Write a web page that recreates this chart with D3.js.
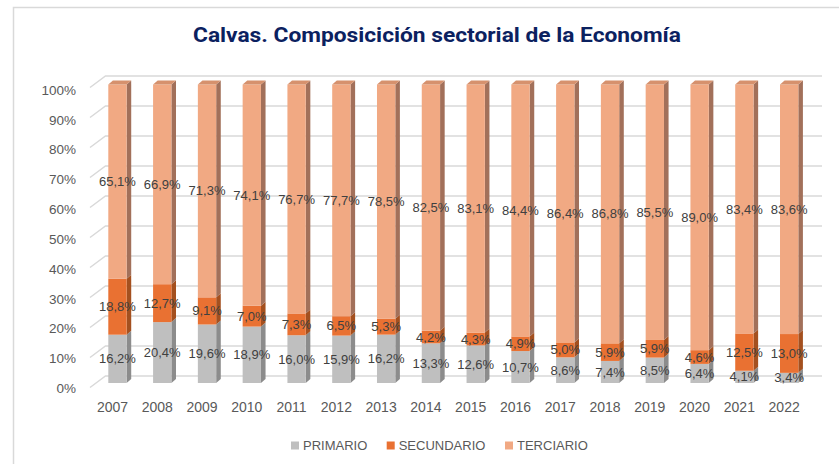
<!DOCTYPE html>
<html>
<head>
<meta charset="utf-8">
<script src="https://cdn.jsdelivr.net/npm/d3@7"></script>
<style>
  html, body { margin: 0; padding: 0; background: #ffffff; }
  svg { display: block; }
  text { font-family: "Liberation Sans", Arial, sans-serif; }
</style>
</head>
<body>
<svg id="chart" width="839" height="464"></svg>
<script>
// Sector shares of the economy of Calvas, by year (%)
const years = ["2007","2008","2009","2010","2011","2012","2013","2014","2015","2016","2017","2018","2019","2020","2021","2022"];
const primario   = [16.2, 20.4, 19.6, 18.9, 16.0, 15.9, 16.2, 13.3, 12.6, 10.7, 8.6, 7.4, 8.5, 6.4, 4.1, 3.4];
const secundario = [18.8, 12.7, 9.1, 7.0, 7.3, 6.5, 5.3, 4.2, 4.3, 4.9, 5.0, 5.9, 5.9, 4.6, 12.5, 13.0];
const terciario  = [65.1, 66.9, 71.3, 74.1, 76.7, 77.7, 78.5, 82.5, 83.1, 84.4, 86.4, 86.8, 85.5, 89.0, 83.4, 83.6];
const seriesNames = ["PRIMARIO", "SECUNDARIO", "TERCIARIO"];
const yTicks = [0, 0.1, 0.2, 0.3, 0.4, 0.5, 0.6, 0.7, 0.8, 0.9, 1];

const rows = years.map((y, i) => ({
  year: y, PRIMARIO: primario[i], SECUNDARIO: secundario[i], TERCIARIO: terciario[i]
}));

// face colours: front, side, top
const faces = {
  PRIMARIO:   { front: "#BFBFBF", side: "#8C8C8C", top: "#A6A6A6" },
  SECUNDARIO: { front: "#E97132", side: "#A4501F", top: "#C75F28" },
  TERCIARIO:  { front: "#F1A983", side: "#A2705A", top: "#D6916D" }
};

const svg = d3.select("#chart");

// outer chart frame
svg.append("rect")
  .attr("x", 13.5).attr("y", 7.5).attr("width", 900).attr("height", 520)
  .attr("fill", "#fff").attr("stroke", "#D9D9D9").attr("stroke-width", 1.5);

// title
svg.append("text")
  .attr("x", 437).attr("y", 42)
  .attr("text-anchor", "middle")
  .attr("font-size", 21).attr("font-weight", "bold")
  .attr("fill", "#0B2160")
  .attr("textLength", 488).attr("lengthAdjust", "spacingAndGlyphs")
  .style("font-family", "'Liberation Sans Narrow', 'Roboto', 'Liberation Sans', sans-serif")
  .text("Calvas. Composicición sectorial de la Economía");

// scales: front plane of the bars and back wall of the box
const x = d3.scaleBand().domain(years).range([95.07, 811.55]).paddingInner(0.591).paddingOuter(0.2955);
const yFront = d3.scaleLinear().domain([0, 1]).range([383, 84.5]);
const yBack  = d3.scaleLinear().domain([0, 1]).range([376, 76]);
const yLabel = d3.scaleLinear().domain([0, 1]).range([388.3, 90]);
const depthX = 4.6, depthY = -4;

// gridlines: side wall diagonal + back wall
const grid = svg.append("g").attr("fill", "none").attr("stroke", "#D9D9D9").attr("stroke-width", 1.5);
yTicks.forEach(t => {
  const yb = yBack(t);
  grid.append("path").attr("d", `M90,${yb + 11.5}L105.5,${yb}L822,${yb}`);
});

// y axis labels
svg.append("g").selectAll("text").data(yTicks).join("text")
  .attr("x", 76).attr("y", d => yLabel(d))
  .attr("dy", "0.35em")
  .attr("text-anchor", "end")
  .attr("font-size", 13.5).attr("fill", "#595959")
  .text(d => d3.format(".0%")(d));

// x axis labels
svg.append("g").selectAll("text").data(years).join("text")
  .attr("x", d => x(d) + x.bandwidth() / 2 - 5).attr("y", 412)
  .attr("text-anchor", "middle")
  .attr("font-size", 14).attr("fill", "#595959")
  .text(d => d);

// stacked 100% layout
const stacked = d3.stack().keys(seriesNames).offset(d3.stackOffsetExpand)(rows);

const es = d3.formatLocale({ decimal: ",", thousands: ".", grouping: [3], currency: ["", "€"] });
const fmt = es.format(".1f");

const bars = svg.append("g");
const w = x.bandwidth();
years.forEach((yr, i) => {
  const g = bars.append("g");
  stacked.forEach((layer, k) => {
    const key = layer.key;
    const [v0, v1] = layer[i];
    const x0 = x(yr), x1 = x0 + w;
    const yt = yFront(v1), yb = yFront(v0);
    // side face
    g.append("path")
      .attr("d", `M${x1},${yb}L${x1 + depthX},${yb + depthY}L${x1 + depthX},${yt + depthY}L${x1},${yt}Z`)
      .attr("fill", faces[key].side);
    // front face
    g.append("rect")
      .attr("x", x0).attr("y", yt).attr("width", w).attr("height", yb - yt)
      .attr("fill", faces[key].front);
    // top face on the uppermost segment
    if (k === stacked.length - 1) {
      g.append("path")
        .attr("d", `M${x0},${yt}L${x0 + depthX},${yt + depthY}L${x1 + depthX},${yt + depthY}L${x1},${yt}Z`)
        .attr("fill", faces[key].top);
    }
  });
});

// value labels
const labels = svg.append("g");
years.forEach((yr, i) => {
  stacked.forEach(layer => {
    const [v0, v1] = layer[i];
    labels.append("text")
      .attr("x", x(yr) + w / 2).attr("y", yFront((v0 + v1) / 2))
      .attr("dy", "0.35em")
      .attr("text-anchor", "middle")
      .attr("font-size", 13).attr("fill", "#404040")
      .text(fmt(rows[i][layer.key]) + "%");
  });
});

// legend
const legendX = [291, 386.7, 505];
const legend = svg.append("g");
seriesNames.forEach((s, i) => {
  legend.append("rect")
    .attr("x", legendX[i]).attr("y", 441.5).attr("width", 8).attr("height", 8)
    .attr("fill", faces[s].front);
  legend.append("text")
    .attr("x", legendX[i] + 12).attr("y", 445.7)
    .attr("dy", "0.35em")
    .attr("font-size", 13).attr("fill", "#595959")
    .text(s);
});
</script>
</body>
</html>
